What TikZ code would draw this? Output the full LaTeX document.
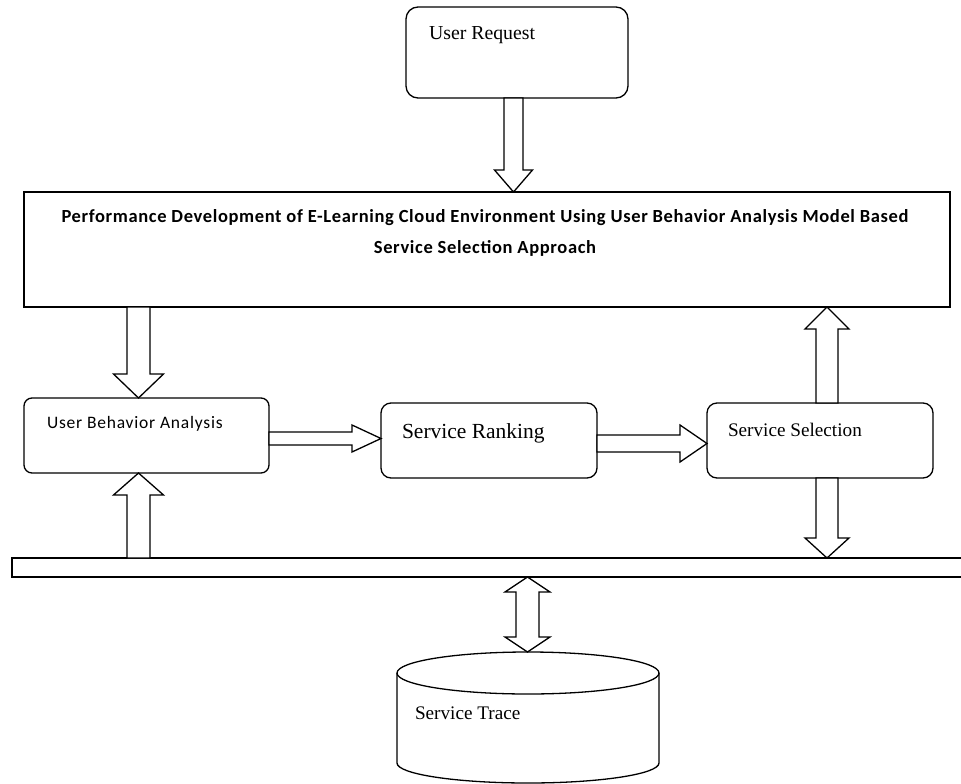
\documentclass[tikz,border=0pt]{standalone}
\usepackage{fontspec}
\setmainfont{Liberation Serif}
\newfontfamily\titlefont[LetterSpace=3.5]{Carlito}
\newfontfamily\ubafont[LetterSpace=4.5]{Carlito}
\usetikzlibrary{calc}
% #1 start, #2 tip, #3 shaft half width, #4 head half width, #5 head length
\newcommand\fatarrow[5]{%
  \coordinate (faH) at ($(#2)!#5!(#1)$);
  \draw[fatline] ($(#1)!#3!90:(#2)$) -- ($(faH)!#3!-90:(#1)$) -- ($(faH)!#4!-90:(#1)$) -- (#2)
    -- ($(faH)!#4!90:(#1)$) -- ($(faH)!#3!90:(#1)$) -- ($(#1)!#3!-90:(#2)$) -- cycle;
}
% double-headed: #1 tip, #2 tip
\newcommand\dblarrow[5]{%
  \coordinate (faHa) at ($(#1)!#5!(#2)$);
  \coordinate (faHb) at ($(#2)!#5!(#1)$);
  \draw[fatline] (#1) -- ($(faHa)!#4!90:(#2)$) -- ($(faHa)!#3!90:(#2)$) -- ($(faHb)!#3!-90:(#1)$)
    -- ($(faHb)!#4!-90:(#1)$) -- (#2) -- ($(faHb)!#4!90:(#1)$) -- ($(faHb)!#3!90:(#1)$)
    -- ($(faHa)!#3!-90:(#2)$) -- ($(faHa)!#4!-90:(#2)$) -- cycle;
}
\begin{document}
\begin{tikzpicture}[x=1pt,y=-1pt,line width=1.3pt,
  box/.style={draw,line width=1.3pt,inner sep=0pt,outer sep=0pt,anchor=north west},
  fatline/.style={draw,fill=white,line width=1.3pt,line join=miter},
  lbl/.style={anchor=base west,inner sep=0pt,outer sep=0pt},
  serif/.style={font=\fontsize{#1}{#1}\selectfont}]
\useasboundingbox (0,0) rectangle (961,784);

% boxes
\node[box,rounded corners=12pt,minimum width=222pt,minimum height=91pt] (ur) at (406,7) {};
\node[box,minimum width=926pt,minimum height=115pt] (main) at (24,192) {};
\node[box,rounded corners=8pt,minimum width=245pt,minimum height=75pt] (uba) at (24,398) {};
\node[box,rounded corners=10pt,minimum width=216pt,minimum height=75pt] (sr) at (381,403) {};
\node[box,rounded corners=10pt,minimum width=226pt,minimum height=75pt] (ss) at (707,403) {};
\node[anchor=north west,inner sep=0pt,outer sep=0pt,minimum width=950pt,minimum height=19pt] (bus) at (12,558) {};
\draw (bus.north east) -- (bus.north west) -- (bus.south west) -- (bus.south east);
\node[anchor=north west,inner sep=0pt,outer sep=0pt,minimum width=262pt,minimum height=130pt] (trace) at (397,652) {};
\draw (397,673) -- (397,763) arc[start angle=180,end angle=0,x radius=131,y radius=20] -- (659,673);
\draw (528,673) ellipse [x radius=131, y radius=21];

% labels
\node[lbl,serif=19.8] (urt) at (429,40) {User Request};
\node[font=\titlefont\bfseries\fontsize{18.5}{31}\selectfont,align=center,inner sep=0pt] (title) at (485,233)
  {Performance Development of E-Learning Cloud Environment Using User Behavior Analysis Model Based\\Service Selection Approach};
\node[lbl,font=\ubafont\fontsize{17.5}{17.5}\selectfont] (ubat) at (47,428) {User Behavior Analysis};
\node[lbl,serif=21.5] (srt) at (402,438) {Service Ranking};
\node[lbl,serif=19.2] (sst) at (728,436) {Service Selection};
\node[lbl,serif=19.2] (stt) at (415,719) {Service Trace};

% columns and rows for block arrows
\coordinate (c1) at (513.5,0);
\coordinate (c2) at (138.5,0);
\coordinate (c3) at (827,0);
\coordinate (c4) at (527.5,0);
\coordinate (r1) at (0,438.5);
\coordinate (r2) at (0,443.5);

\coordinate (a1s) at (c1 |- ur.south);   \coordinate (a1e) at (c1 |- main.north);
\coordinate (a2s) at (c2 |- main.south); \coordinate (a2e) at (c2 |- uba.north);
\coordinate (a3s) at (c2 |- bus.north);  \coordinate (a3e) at (c2 |- uba.south);
\coordinate (a4s) at (r1 -| uba.east);   \coordinate (a4e) at (r1 -| sr.west);
\coordinate (a5s) at (r2 -| sr.east);    \coordinate (a5e) at (r2 -| ss.west);
\coordinate (a6s) at (c3 |- ss.north);   \coordinate (a6e) at (c3 |- main.south);
\coordinate (a7s) at (c3 |- ss.south);   \coordinate (a7e) at (c3 |- bus.north);
\coordinate (a8s) at (c4 |- bus.south);  \coordinate (a8e) at (c4 |- trace.north);

\fatarrow{a1s}{a1e}{9.5pt}{19pt}{22pt}
\fatarrow{a2s}{a2e}{11.5pt}{25pt}{24pt}
\fatarrow{a3s}{a3e}{11.5pt}{25pt}{22pt}
\fatarrow{a4s}{a4e}{6.5pt}{13.5pt}{29pt}
\fatarrow{a5s}{a5e}{8.5pt}{18.5pt}{27pt}
\fatarrow{a6s}{a6e}{11pt}{22pt}{22pt}
\fatarrow{a7s}{a7e}{11pt}{22pt}{20pt}
\dblarrow{a8s}{a8e}{11.5pt}{22.5pt}{15pt}
\end{tikzpicture}
\end{document}
